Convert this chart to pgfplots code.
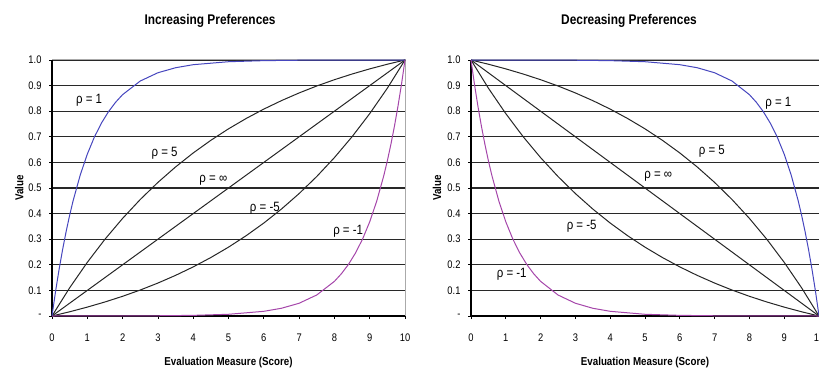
\documentclass[border=0pt]{standalone}
\usepackage{fontspec}
\setmainfont{Liberation Sans}[FakeStretch=0.85]
\usepackage{pgfplots}
\pgfplotsset{compat=1.18}

\definecolor{curveblue}{RGB}{70,70,190}
\definecolor{curvepurple}{RGB}{165,70,170}
\definecolor{gridgray}{RGB}{40,40,40}
\definecolor{framegray}{RGB}{170,170,170}

\tikzset{rlab/.style={font=\fontsize{13.5}{15}\selectfont}}

\pgfplotsset{
  prefplot/.style={
    scale only axis, height=256pt,
    xmin=0, xmax=10, ymin=0, ymax=1,
    axis lines*=left, clip=false,
    axis line style={black, line width=1.4pt},
    tick align=outside, major tick length=3pt,
    tick style={black, line width=0.8pt},
    xtick={0,1,2,3,4,5,6,7,8,9,10},
    ytick={0,0.1,0.2,0.3,0.4,0.5,0.6,0.7,0.8,0.9,1},
    yticklabels={-,0.1,0.2,0.3,0.4,0.5,0.6,0.7,0.8,0.9,1.0},
    /pgf/number format/assume math mode=true,
    tick label style={font=\fontsize{11}{13}\selectfont},
    xticklabel style={yshift=-11pt},
    yticklabel style={xshift=-4pt},
    ymajorgrids, grid style={gridgray, line width=1.3pt},
    title style={font=\bfseries\fontsize{14}{16}\selectfont, anchor=center},
    xlabel style={font=\bfseries\fontsize{11.5}{13}\selectfont, at={(axis description cs:0.5,-0.18)}, anchor=center},
    ylabel style={font=\bfseries\fontsize{11.5}{13}\selectfont, anchor=center},
    xlabel={Evaluation Measure (Score)},
    ylabel={Value},
    every axis plot/.append style={line width=1pt},
  },
}

\begin{document}
\begin{tikzpicture}
\useasboundingbox (0,0) rectangle (819pt,370pt);

% ---- increasing preferences
\begin{axis}[prefplot, width=353pt, at={(52pt,54pt)}, anchor=south west,
  title={Increasing Preferences},
  title style={at={(axis description cs:0.448,1.13)}},
  ylabel style={at={(axis description cs:-0.093,0.5)}}]
\draw[framegray, line width=1pt] (rel axis cs:0,1) -- (rel axis cs:1,1) -- (rel axis cs:1,0);
% rho = infinity
\addplot[black!85] coordinates {(0,0)(10,1)};
% rho = 5
\addplot[black!85] coordinates {(0,0)(0.5,0.1101)(1,0.2096)(1.5,0.2998)(2,0.3813)(2.5,0.4551)(3,0.5218)(3.5,0.5822)(4,0.6369)(4.5,0.6863)(5,0.7311)(5.5,0.7715)(6,0.8082)(6.5,0.8413)(7,0.8713)(7.5,0.8985)(8,0.9230)(8.5,0.9452)(9,0.9653)(9.5,0.9835)(10,1)};
% rho = -5
\addplot[black!85] coordinates {(0,0)(0.5,0.0165)(1,0.0347)(1.5,0.0548)(2,0.0770)(2.5,0.1015)(3,0.1287)(3.5,0.1587)(4,0.1918)(4.5,0.2285)(5,0.2689)(5.5,0.3137)(6,0.3631)(6.5,0.4178)(7,0.4782)(7.5,0.5449)(8,0.6187)(8.5,0.7002)(9,0.7904)(9.5,0.8899)(10,1)};
% rho = 1
\addplot[curveblue] coordinates {(0,0)(0.1,0.0952)(0.2,0.1813)(0.3,0.2592)(0.4,0.3297)(0.5,0.3935)(0.6,0.4512)(0.8,0.5507)(1,0.6321)(1.2,0.6988)(1.4,0.7534)(1.6,0.7981)(1.8,0.8347)(2,0.8647)(2.5,0.9179)(3,0.9502)(3.5,0.9698)(4,0.9817)(5,0.9933)(6,0.9975)(7,0.9991)(8,0.9997)(10,1)};
% rho = -1
\addplot[curvepurple] coordinates {(0,0)(2,0.0003)(3,0.0009)(4,0.0025)(5,0.0067)(6,0.0183)(6.5,0.0302)(7,0.0498)(7.5,0.0821)(8,0.1353)(8.2,0.1653)(8.4,0.2019)(8.6,0.2466)(8.8,0.3012)(9,0.3679)(9.2,0.4493)(9.4,0.5488)(9.5,0.6065)(9.6,0.6703)(9.7,0.7408)(9.8,0.8187)(9.9,0.9048)(10,1)};
\node[rlab] at (axis cs:1.05,0.844) {ρ = 1};
\node[rlab] at (axis cs:3.19,0.636) {ρ = 5};
\node[rlab] at (axis cs:4.57,0.532) {ρ = ∞};
\node[rlab] at (axis cs:6.03,0.422) {ρ = -5};
\node[rlab] at (axis cs:8.39,0.331) {ρ = -1};
\end{axis}

% ---- decreasing preferences
\begin{axis}[prefplot, width=348pt, at={(471pt,54pt)}, anchor=south west,
  title={Decreasing Preferences},
  title style={at={(axis description cs:0.454,1.13)}},
  ylabel style={at={(axis description cs:-0.098,0.5)}}]
\draw[framegray, line width=1pt] (rel axis cs:0,1) -- (rel axis cs:1,1) -- (rel axis cs:1,0);
% rho = infinity
\addplot[black!85] coordinates {(0,1)(10,0)};
% rho = 5
\addplot[black!85] coordinates {(10,0)(9.5,0.1101)(9,0.2096)(8.5,0.2998)(8,0.3813)(7.5,0.4551)(7,0.5218)(6.5,0.5822)(6,0.6369)(5.5,0.6863)(5,0.7311)(4.5,0.7715)(4,0.8082)(3.5,0.8413)(3,0.8713)(2.5,0.8985)(2,0.9230)(1.5,0.9452)(1,0.9653)(0.5,0.9835)(0,1)};
% rho = -5
\addplot[black!85] coordinates {(10,0)(9.5,0.0165)(9,0.0347)(8.5,0.0548)(8,0.0770)(7.5,0.1015)(7,0.1287)(6.5,0.1587)(6,0.1918)(5.5,0.2285)(5,0.2689)(4.5,0.3137)(4,0.3631)(3.5,0.4178)(3,0.4782)(2.5,0.5449)(2,0.6187)(1.5,0.7002)(1,0.7904)(0.5,0.8899)(0,1)};
% rho = 1
\addplot[curveblue] coordinates {(10,0)(9.9,0.0952)(9.8,0.1813)(9.7,0.2592)(9.6,0.3297)(9.5,0.3935)(9.4,0.4512)(9.2,0.5507)(9,0.6321)(8.8,0.6988)(8.6,0.7534)(8.4,0.7981)(8.2,0.8347)(8,0.8647)(7.5,0.9179)(7,0.9502)(6.5,0.9698)(6,0.9817)(5,0.9933)(4,0.9975)(3,0.9991)(2,0.9997)(0,1)};
% rho = -1
\addplot[curvepurple] coordinates {(10,0)(8,0.0003)(7,0.0009)(6,0.0025)(5,0.0067)(4,0.0183)(3.5,0.0302)(3,0.0498)(2.5,0.0821)(2,0.1353)(1.8,0.1653)(1.6,0.2019)(1.4,0.2466)(1.2,0.3012)(1,0.3679)(0.8,0.4493)(0.6,0.5488)(0.5,0.6065)(0.4,0.6703)(0.3,0.7408)(0.2,0.8187)(0.1,0.9048)(0,1)};
\node[rlab] at (axis cs:8.83,0.831) {ρ = 1};
\node[rlab] at (axis cs:6.92,0.643) {ρ = 5};
\node[rlab] at (axis cs:5.38,0.545) {ρ = ∞};
\node[rlab] at (axis cs:3.18,0.351) {ρ = -5};
\node[rlab] at (axis cs:1.17,0.162) {ρ = -1};
\end{axis}
\end{tikzpicture}
\end{document}
